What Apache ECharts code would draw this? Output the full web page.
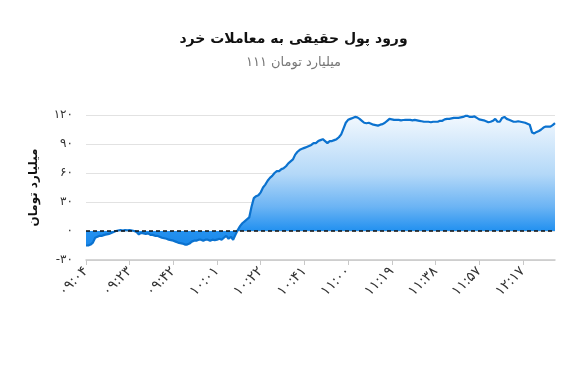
<!DOCTYPE html>
<html><head><meta charset="utf-8">
<script src="https://cdn.jsdelivr.net/npm/echarts@6/dist/echarts.min.js"></script>
<style>html,body{margin:0;padding:0;background:#fff}#c{width:587px;height:369px}</style>
</head><body><div id="c"></div>
<script>
const titleText = "ورود پول حقیقی به معاملات خرد";
const subtitleText = "میلیارد تومان ۱۱۱";
const yAxisName = "میلیارد تومان";

const times = [
"09:04","09:05","09:06","09:07","09:08","09:09","09:10","09:11","09:12","09:13","09:14","09:15","09:16","09:17","09:18","09:19","09:20","09:21","09:22","09:23",
"09:24","09:25","09:26","09:27","09:28","09:29","09:30","09:31","09:32","09:33","09:34","09:35","09:36","09:37","09:38","09:39","09:40","09:41","09:42","09:43",
"09:44","09:45","09:46","09:47","09:48","09:49","09:50","09:51","09:52","09:53","09:54","09:55","09:56","09:57","09:58","09:59","10:00","10:01","10:02","10:03",
"10:04","10:06","10:07","10:08","10:09","10:10","10:11","10:12","10:13","10:14","10:16","10:17","10:18","10:19","10:20","10:21","10:22","10:23","10:24","10:25",
"10:26","10:27","10:28","10:29","10:30","10:31","10:32","10:33","10:34","10:35","10:36","10:37","10:38","10:39","10:40","10:41","10:42","10:43","10:44","10:45",
"10:46","10:47","10:48","10:49","10:50","10:51","10:52","10:53","10:54","10:55","10:56","10:57","10:58","10:59","11:00","11:01","11:02","11:03","11:04","11:05",
"11:06","11:07","11:08","11:09","11:10","11:11","11:12","11:13","11:14","11:15","11:16","11:17","11:18","11:19","11:20","11:21","11:22","11:23","11:24","11:25",
"11:26","11:27","11:28","11:29","11:30","11:31","11:32","11:33","11:34","11:35","11:36","11:37","11:38","11:39","11:40","11:41","11:42","11:43","11:44","11:45",
"11:46","11:47","11:48","11:49","11:50","11:51","11:52","11:53","11:54","11:55","11:56","11:57","11:58","11:59","12:00","12:01","12:02","12:03","12:04","12:06",
"12:07","12:08","12:09","12:10","12:11","12:12","12:13","12:14","12:15","12:16","12:17","12:18","12:19","12:20","12:21","12:22","12:23","12:24","12:25","12:26",
"12:27","12:28","12:29","12:30","12:31"
];

const inflow = [
-15,-15,-14,-12,-7,-6,-5,-5,-4,-3.5,-3,-2,-1,0,0.5,1,0.5,1,0.8,1,
0.5,0,-1,-3.5,-2,-2.5,-3,-2.5,-4,-4,-5,-5,-6,-7,-7.5,-8,-9,-9.5,-10,-11,
-12,-12.5,-13,-14,-14,-13,-11,-10,-10,-9,-9,-10,-9,-9,-10,-9,-9.5,-9,-8,-9,
-7,-5,-8,-6,-9,-4,1,5,8,10,12,14,25,34,36,37,40,45,48,52,
55,57,60,62,62,64,65,67,70,72,74,79,82,84,85,86,87,88,89,91,
91,93,94,95,93,91,93,93,94,95,97,100,106,112,115,116,117,118,117.5,116,
114,112,111.5,112,111,110,109.5,109,110,110.5,112,114,116,115.5,115,115,115,114.5,114.8,115,
115,115,114.5,115,114.5,114,113.5,113,113,113,112.5,113,113,113,114,114,115.5,116,116,116.5,
117,117,117,117.5,118,119,119,118,118,118.5,117,115.5,115,114.5,113.5,112.5,113,114,116,113,
113,117,118,116,115,114,113,113,113.5,113,112.5,112,111,110,102,101,102.5,103.5,105,107,
108,108,108,109.5,111.5
];

const yTicks = { min: -30, max: 120, interval: 30 };

const fa = s => String(s).replace(/[0-9]/g, d => '۰۱۲۳۴۵۶۷۸۹'[+d]);
const FONT = '"DejaVu Sans", "Noto Sans", sans-serif';

const chart = echarts.init(document.getElementById('c'), null, { renderer: 'canvas' });
chart.setOption({
  animation: false,
  title: {
    text: titleText,
    subtext: subtitleText,
    left: 'center',
    top: 27,
    itemGap: 10,
    textStyle: { fontFamily: FONT, fontSize: 14, fontWeight: 'bold', color: '#111' },
    subtextStyle: { fontFamily: FONT, fontSize: 13, color: '#777' }
  },
  grid: { left: 86, right: 32, top: 115, bottom: 109 },
  xAxis: {
    type: 'category',
    data: times,
    boundaryGap: false,
    axisLine: { onZero: false, lineStyle: { color: '#c8c8c8', width: 1.5 } },
    axisTick: { interval: 18, length: 5, lineStyle: { color: '#c8c8c8' } },
    axisLabel: {
      interval: 18, rotate: 45, margin: 9,
      fontFamily: FONT, fontSize: 14, color: '#333',
      formatter: v => fa(v)
    },
    splitLine: { show: false }
  },
  yAxis: {
    type: 'value',
    min: yTicks.min, max: yTicks.max, interval: yTicks.interval,
    name: yAxisName,
    nameLocation: 'middle',
    nameGap: 46,
    nameTextStyle: { fontFamily: FONT, fontSize: 12, fontWeight: 'bold', color: '#111' },
    axisLine: { show: false },
    axisTick: { show: false },
    axisLabel: { margin: 13, fontFamily: FONT, fontSize: 12, color: '#333', formatter: v => fa(v) },
    splitLine: { lineStyle: { color: '#e2e2e2', width: 1 } }
  },
  series: [{
    type: 'line',
    data: inflow,
    showSymbol: false,
    symbol: 'none',
    lineStyle: { color: '#0b72cf', width: 2.2 },
    itemStyle: { color: '#0b72cf' },
    areaStyle: {
      origin: 0,
      opacity: 1,
      color: new echarts.graphic.LinearGradient(0, 0, 0, 1, [
        { offset: 0, color: '#f2f8fe' },
        { offset: 0.45, color: '#b3d8f8' },
        { offset: 0.7, color: '#6cb4f4' },
        { offset: 0.88, color: '#2592f0' },
        { offset: 1, color: '#1a88ea' }
      ])
    },
    markLine: {
      silent: true,
      symbol: 'none',
      label: { show: false },
      lineStyle: { color: '#111', type: [4, 3], width: 1.5 },
      data: [{ yAxis: 0 }]
    }
  }]
});
</script>
</body></html>
